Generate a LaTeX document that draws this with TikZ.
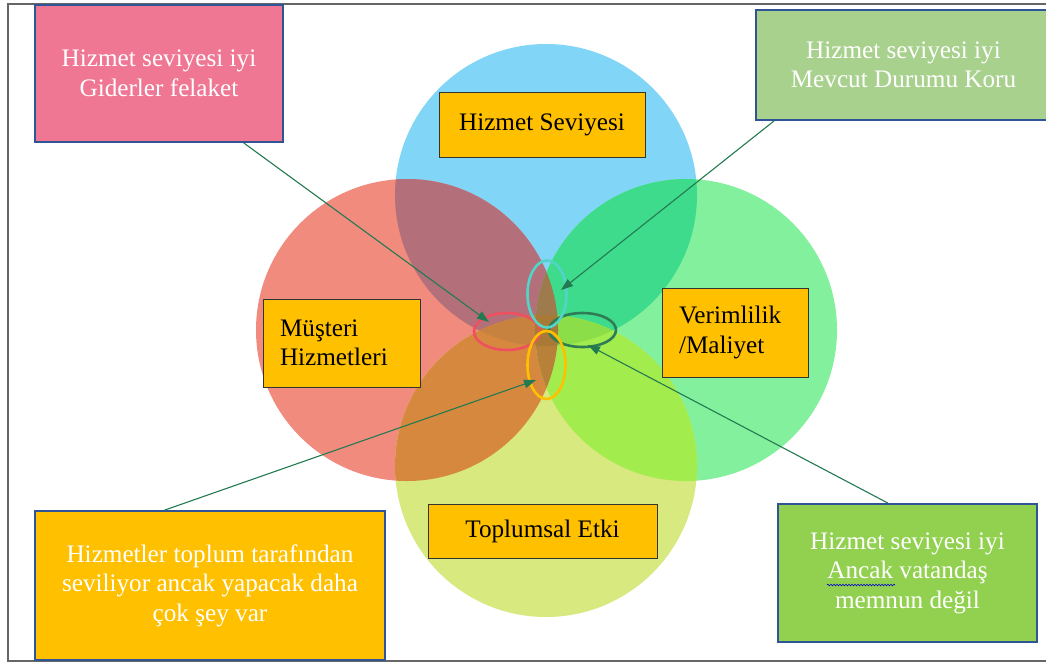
\documentclass[tikz,border=0pt]{standalone}
\usepackage{fontspec}
\newfontfamily\lbfont{Liberation Serif}
\newcommand\lbf{\lbfont\fontsize{25.2pt}{29.5pt}\selectfont}
\usetikzlibrary{shapes.geometric,arrows.meta,calc,decorations.pathmorphing}
\definecolor{cB}{HTML}{81D5F7}
\definecolor{cR}{HTML}{F18B7E}
\definecolor{cG}{HTML}{82F09C}
\definecolor{cY}{HTML}{D7E97F}
\definecolor{cBR}{HTML}{B3707A}
\definecolor{cBG}{HTML}{3EDB8D}
\definecolor{cRY}{HTML}{D6883F}
\definecolor{cGY}{HTML}{A2EC4E}
\definecolor{cBRY}{HTML}{C8823F}
\definecolor{cBGY}{HTML}{8CDE48}
\definecolor{cBRG}{HTML}{9E7A4C}
\definecolor{cRGY}{HTML}{B8813A}
\definecolor{cALL}{HTML}{A87A36}
\definecolor{gold}{HTML}{FFC000}
\definecolor{callblue}{HTML}{2F5597}
\definecolor{pinkc}{HTML}{F07793}
\definecolor{lgreen}{HTML}{A9D18E}
\definecolor{mgreen}{HTML}{92D050}
\definecolor{arrowgreen}{HTML}{237A50}
\definecolor{ecyan}{HTML}{52D4C8}
\definecolor{ered}{HTML}{EE5060}
\definecolor{edgreen}{HTML}{2F7D55}
\definecolor{framegray}{HTML}{666666}
\tikzset{
  lab/.style={draw=black!80, line width=0.8pt, fill=gold, text=black, font=\lbf, inner sep=0pt},
  callout/.style={draw=callblue, line width=1.8pt, text=white, font=\lbf, align=center, inner sep=0pt},
  ell/.style={ellipse, draw, line width=2.6pt, inner sep=0pt},
  conn/.style={draw=arrowgreen, line width=1.1pt, -{Triangle[length=12pt,width=8.5pt]}},
  rad/.style={radius=151pt}
}
\begin{document}
\begin{tikzpicture}[x=1pt,y=-1pt]
\useasboundingbox (0,0) rectangle (1046,662);
\clip (0,0) rectangle (1046,662);
\fill[white] (0,0) rectangle (1046,662);
% frame
\draw[framegray, line width=1.4pt] (1046,4) -- (8,4) -- (8,661) -- (1046,661);
% circle centres
\coordinate (B) at (546,195);
\coordinate (R) at (407,330);
\coordinate (G) at (686,330);
\coordinate (Y) at (546,466);
% single circles
\fill[cB] (B) circle[rad];
\fill[cR] (R) circle[rad];
\fill[cG] (G) circle[rad];
\fill[cY] (Y) circle[rad];
% pairwise overlaps
\begin{scope}\clip (B) circle[rad]; \fill[cBR] (R) circle[rad];\end{scope}
\begin{scope}\clip (B) circle[rad]; \fill[cBG] (G) circle[rad];\end{scope}
\begin{scope}\clip (R) circle[rad]; \fill[cRY] (Y) circle[rad];\end{scope}
\begin{scope}\clip (G) circle[rad]; \fill[cGY] (Y) circle[rad];\end{scope}
% triple overlaps
\begin{scope}\clip (B) circle[rad]; \clip (R) circle[rad]; \fill[cBRY] (Y) circle[rad];\end{scope}
\begin{scope}\clip (B) circle[rad]; \clip (G) circle[rad]; \fill[cBGY] (Y) circle[rad];\end{scope}
\begin{scope}\clip (B) circle[rad]; \clip (R) circle[rad]; \fill[cBRG] (G) circle[rad];\end{scope}
\begin{scope}\clip (R) circle[rad]; \clip (G) circle[rad]; \fill[cRGY] (Y) circle[rad];\end{scope}
\begin{scope}\clip (B) circle[rad]; \clip (R) circle[rad]; \clip (G) circle[rad]; \fill[cALL] (Y) circle[rad];\end{scope}
% circle labels
\node[lab, minimum width=206pt, minimum height=65pt] (hs) at (542,124.5) {Hizmet Seviyesi};
\node[lab, minimum width=157pt, minimum height=88pt, align=left, text width=123pt, inner xsep=17pt] (mh) at (341.5,343) {Müşteri\\Hizmetleri};
\node[lab, minimum width=146pt, minimum height=89pt, align=left, text width=112pt, inner xsep=17pt] (vm) at (735,332.5) {Verimlilik\\/Maliyet};
\node[lab, minimum width=229pt, minimum height=54pt] (te) at (542.5,531) {Toplumsal Etki};
% callouts
\node[callout, fill=pinkc, minimum width=248pt, minimum height=137pt] (pink) at (159,73.5) {Hizmet seviyesi iyi\\Giderler felaket};
\node[callout, fill=lgreen, minimum width=295pt, minimum height=110pt] (tr) at (903.5,65) {Hizmet seviyesi iyi\\Mevcut Durumu Koru};
\node[callout, fill=gold, minimum width=350pt, minimum height=149pt] (bl) at (210,585.5) {Hizmetler toplum tarafından\\seviliyor ancak yapacak daha\\çok şey var};
\node[callout, fill=mgreen, minimum width=259pt, minimum height=138pt] (br) at (907.5,573) {Hizmet seviyesi iyi\\Ancak vatandaş\\memnun değil};
\draw[blue!80!black, line width=0.6pt, decorate, decoration={snake, amplitude=0.8pt, segment length=3pt}] (827,585) -- (895,585);
% small ellipses
\node[ell, draw=ered, minimum width=66pt, minimum height=37pt] (redE) at (507,331.5) {};
\node[ell, draw=edgreen, minimum width=67pt, minimum height=34pt] (dgE) at (582.5,330) {};
\node[ell, draw=ecyan, minimum width=39pt, minimum height=67pt] (cyE) at (547,294) {};
\node[ell, draw=gold, minimum width=38pt, minimum height=68pt] (orE) at (546.5,365) {};
% connector ends
\coordinate (s1) at ($(pink.south west)!0.839!(pink.south east)$);
\coordinate (s2) at ($(tr.south west)!0.064!(tr.south east)$);
\coordinate (s3) at ($(bl.north west)!0.371!(bl.north east)$);
\coordinate (s4) at ($(br.north west)!0.425!(br.north east)$);
\coordinate (t1) at ($(redE.center)+(-18,-9.5)$);
\coordinate (t2) at ($(cyE.center)+(14,-4)$);
\coordinate (t3) at ($(orE.center)+(-10.5,15)$);
\coordinate (t4) at ($(dgE.center)+(5.5,15)$);
\draw[conn] (s1) -- (t1);
\draw[conn] (s2) -- (t2);
\draw[conn] (s3) -- (t3);
\draw[conn] (s4) -- (t4);
\end{tikzpicture}
\end{document}
